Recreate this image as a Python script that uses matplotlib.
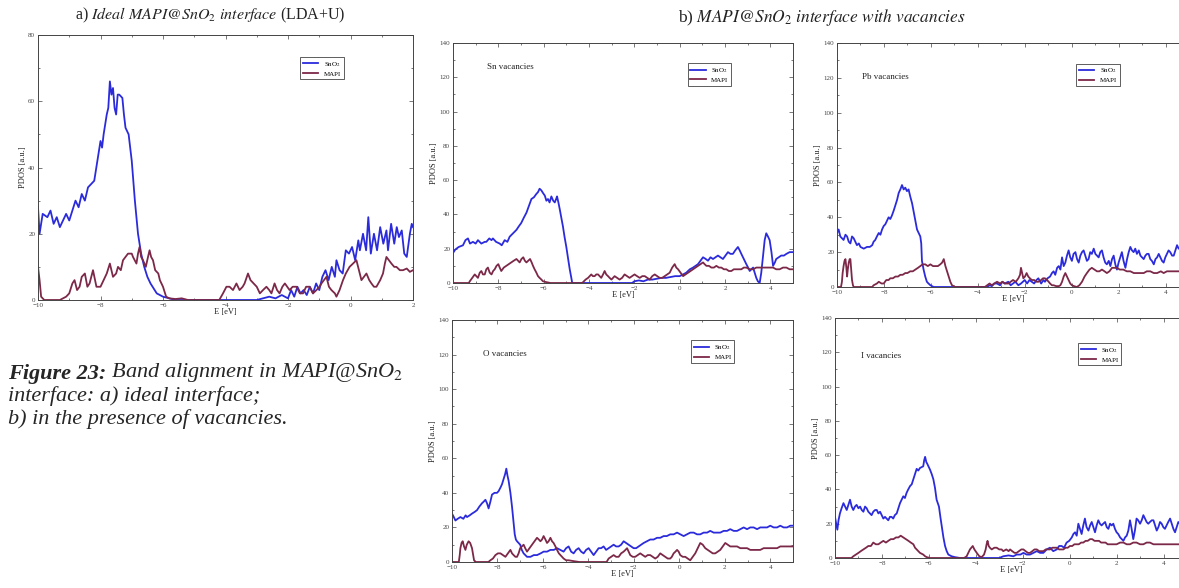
import numpy as np
import matplotlib.pyplot as plt
from matplotlib.ticker import MultipleLocator

plt.rcParams['font.family'] = ['Liberation Serif', 'DejaVu Serif']
plt.rcParams['mathtext.fontset'] = 'stix'

# ------------------------------------------------------------
# PDOS curves: (E [eV], PDOS [a.u.])
# ------------------------------------------------------------
# a) ideal interface
a_sno2 = [(-10.0, 28), (-9.95, 20), (-9.85, 26), (-9.7, 25), (-9.6, 27), (-9.5, 23), (-9.4, 25),
          (-9.3, 22), (-9.2, 24), (-9.1, 26), (-9.0, 24), (-8.9, 27), (-8.8, 30), (-8.7, 28),
          (-8.6, 32), (-8.5, 30), (-8.4, 34), (-8.3, 35), (-8.2, 36), (-8.1, 42), (-8.0, 48),
          (-7.95, 46), (-7.9, 50), (-7.85, 53), (-7.8, 56), (-7.75, 58), (-7.7, 66), (-7.65, 62),
          (-7.6, 64), (-7.55, 58), (-7.5, 56), (-7.45, 62), (-7.4, 62), (-7.3, 61), (-7.25, 56),
          (-7.2, 52), (-7.1, 50), (-7.0, 42), (-6.95, 36), (-6.9, 30), (-6.8, 20), (-6.7, 14),
          (-6.6, 10), (-6.5, 7), (-6.4, 5), (-6.2, 2), (-6.0, 1), (-5.8, 0.5), (-5.6, 0), (-3.0, 0),
          (-2.8, 0.5), (-2.6, 1), (-2.4, 0.5), (-2.2, 1.5), (-2.0, 0.5), (-1.9, 3), (-1.8, 1),
          (-1.7, 4), (-1.6, 2), (-1.5, 3), (-1.4, 1.5), (-1.3, 4), (-1.2, 2), (-1.1, 5), (-1.0, 3),
          (-0.9, 7), (-0.8, 9), (-0.7, 6), (-0.6, 10), (-0.5, 7), (-0.45, 12), (-0.35, 9),
          (-0.25, 8), (-0.15, 15), (-0.05, 14), (0.05, 16), (0.15, 12), (0.25, 18), (0.3, 15),
          (0.4, 20), (0.5, 15), (0.57, 25), (0.65, 14), (0.75, 20), (0.85, 15), (0.95, 22),
          (1.05, 17), (1.15, 21), (1.2, 15), (1.3, 23), (1.4, 17), (1.48, 22), (1.55, 19),
          (1.64, 21), (1.72, 14), (1.8, 13), (1.9, 20), (1.96, 23), (2.0, 22)]
a_mapi = [(-10.0, 10), (-9.95, 6), (-9.9, 1), (-9.8, 0), (-9.3, 0), (-9.1, 1), (-9.0, 2), (-8.9, 5),
          (-8.83, 6), (-8.75, 3), (-8.67, 4), (-8.6, 7), (-8.5, 8), (-8.42, 4), (-8.35, 5),
          (-8.24, 9), (-8.13, 4), (-8.0, 4), (-7.9, 6), (-7.8, 8), (-7.7, 11), (-7.6, 7), (-7.5, 8),
          (-7.44, 10), (-7.35, 9), (-7.28, 12), (-7.2, 13), (-7.12, 14), (-7.0, 14), (-6.96, 13),
          (-6.85, 11), (-6.8, 14), (-6.75, 16), (-6.7, 13), (-6.64, 12), (-6.55, 10), (-6.48, 13),
          (-6.43, 15), (-6.38, 13), (-6.32, 12), (-6.25, 9), (-6.15, 8), (-6.1, 6), (-6.0, 4),
          (-5.9, 1), (-5.8, 0.5), (-5.6, 0.3), (-5.4, 0.5), (-5.2, 0), (-4.2, 0), (-4.08, 2),
          (-3.97, 4), (-3.87, 4), (-3.76, 3), (-3.65, 5), (-3.55, 3), (-3.45, 4), (-3.39, 5),
          (-3.28, 8), (-3.2, 6), (-3.1, 5), (-3.0, 4), (-2.9, 2), (-2.8, 3), (-2.69, 4), (-2.6, 3),
          (-2.53, 2), (-2.43, 5), (-2.35, 3), (-2.27, 2), (-2.18, 4), (-2.1, 5), (-1.95, 3),
          (-1.85, 4), (-1.73, 4), (-1.62, 2), (-1.52, 2), (-1.42, 4), (-1.31, 4), (-1.2, 2),
          (-1.09, 3), (-0.99, 4), (-0.93, 5), (-0.85, 6), (-0.77, 7), (-0.69, 4), (-0.61, 3),
          (-0.5, 2), (-0.45, 1), (-0.35, 3), (-0.24, 6), (-0.15, 8), (-0.03, 10), (0.08, 11),
          (0.19, 12), (0.27, 9), (0.35, 6), (0.43, 7), (0.51, 8), (0.6, 6), (0.67, 5), (0.75, 4),
          (0.83, 4), (0.95, 6), (1.04, 8), (1.1, 11), (1.15, 13), (1.23, 12), (1.31, 11),
          (1.4, 10), (1.47, 10), (1.58, 9), (1.68, 9), (1.8, 9.5), (1.9, 8.5), (2.0, 9)]

# b) Sn vacancies
sn_sno2 = [(-10.0, 17.5), (-9.9, 19.5), (-9.75, 21), (-9.56, 22), (-9.45, 25), (-9.34, 26),
           (-9.25, 23), (-9.12, 24), (-9.0, 23), (-8.9, 25), (-8.75, 23), (-8.6, 24), (-8.53, 24),
           (-8.4, 26), (-8.3, 25), (-8.24, 26), (-8.1, 24), (-7.94, 23), (-7.85, 22), (-7.72, 25),
           (-7.6, 24), (-7.5, 27), (-7.35, 29), (-7.2, 31), (-7.1, 33), (-6.99, 35), (-6.88, 38),
           (-6.76, 41), (-6.65, 45), (-6.54, 49), (-6.43, 50), (-6.32, 52), (-6.25, 53),
           (-6.18, 55), (-6.1, 54), (-6.03, 52.5), (-5.95, 51), (-5.88, 48), (-5.81, 49),
           (-5.74, 47), (-5.66, 50.5), (-5.58, 48), (-5.51, 47), (-5.45, 49), (-5.41, 50.5),
           (-5.35, 47), (-5.29, 43), (-5.22, 38), (-5.15, 33), (-5.08, 27), (-5.0, 21),
           (-4.92, 14), (-4.85, 8), (-4.78, 3), (-4.74, 0), (-2.1, 0), (-2.0, 1), (-1.8, 1.5),
           (-1.6, 1), (-1.4, 2), (-1.2, 2), (-1.0, 2.5), (-0.8, 3), (-0.6, 3), (-0.4, 3.5),
           (-0.2, 4), (0.0, 4), (0.15, 5), (0.29, 6), (0.45, 8), (0.59, 9), (0.7, 10), (0.81, 11),
           (0.92, 13), (1.03, 15), (1.15, 14), (1.25, 13), (1.36, 15), (1.47, 14), (1.58, 15),
           (1.69, 16), (1.8, 15), (1.91, 14), (2.02, 16), (2.13, 18), (2.24, 17), (2.35, 17),
           (2.45, 19), (2.57, 21), (2.65, 19), (2.72, 17), (2.83, 14), (2.94, 11), (3.02, 9),
           (3.09, 7), (3.16, 8), (3.24, 9), (3.31, 6), (3.38, 3), (3.45, 1), (3.53, 0), (3.6, 6),
           (3.68, 16), (3.75, 25), (3.82, 29), (3.9, 27), (3.97, 25), (4.05, 18), (4.12, 10),
           (4.2, 12), (4.26, 14), (4.37, 15), (4.48, 16), (4.6, 16), (4.71, 17), (4.85, 18),
           (5.0, 18)]
sn_mapi = [(-10.0, 0), (-9.3, 0), (-9.26, 1), (-9.15, 3), (-9.04, 5), (-8.97, 4), (-8.9, 3),
           (-8.82, 6), (-8.75, 7), (-8.68, 5), (-8.6, 5), (-8.53, 8), (-8.46, 9), (-8.38, 6),
           (-8.3, 5), (-8.23, 7), (-8.16, 8), (-8.08, 10), (-8.0, 11), (-7.94, 9), (-7.87, 7),
           (-7.76, 9), (-7.65, 10), (-7.54, 11), (-7.43, 12), (-7.32, 13), (-7.2, 14),
           (-7.13, 13), (-7.06, 12), (-6.98, 14), (-6.9, 15), (-6.83, 13), (-6.76, 12),
           (-6.68, 13), (-6.6, 14), (-6.53, 12), (-6.47, 10), (-6.4, 8), (-6.32, 6), (-6.25, 4),
           (-6.18, 3), (-6.1, 2), (-6.03, 1), (-5.88, 0.5), (-5.7, 0), (-4.3, 0), (-4.15, 2),
           (-4.04, 3), (-3.97, 4), (-3.9, 5), (-3.83, 4), (-3.75, 4), (-3.68, 5), (-3.6, 5),
           (-3.53, 4), (-3.46, 3), (-3.38, 5), (-3.31, 7), (-3.24, 5), (-3.16, 4), (-3.09, 3),
           (-3.01, 2), (-2.94, 3), (-2.87, 4), (-2.76, 3), (-2.65, 2), (-2.54, 3), (-2.43, 5),
           (-2.32, 4), (-2.21, 3), (-2.1, 4), (-1.99, 5), (-1.88, 4), (-1.76, 3), (-1.65, 4),
           (-1.54, 4), (-1.43, 3), (-1.32, 2), (-1.21, 4), (-1.1, 5), (-0.99, 4), (-0.88, 3),
           (-0.77, 3), (-0.66, 4), (-0.55, 5), (-0.44, 6), (-0.33, 9), (-0.22, 11), (-0.15, 9),
           (-0.07, 8), (0.04, 6), (0.15, 4), (0.26, 5), (0.37, 6), (0.48, 7), (0.59, 8), (0.7, 9),
           (0.81, 10), (0.92, 11), (1.03, 12), (1.1, 11), (1.18, 10), (1.29, 10), (1.4, 9),
           (1.51, 9), (1.62, 10), (1.73, 9), (1.84, 9), (1.95, 8), (2.06, 8), (2.17, 7), (2.28, 7),
           (2.39, 8), (2.5, 8), (2.61, 8), (2.72, 8), (2.83, 9), (2.94, 9), (3.09, 8), (3.24, 8),
           (3.38, 9), (3.53, 9), (3.68, 9), (3.82, 9), (3.97, 9), (4.12, 9), (4.26, 8), (4.41, 8),
           (4.56, 9), (4.71, 9), (4.85, 8), (5.0, 8)]

# b) Pb vacancies
pb_sno2 = [(-10.0, 31), (-9.93, 33), (-9.86, 29), (-9.79, 28), (-9.72, 27), (-9.64, 30),
           (-9.57, 29), (-9.5, 26), (-9.43, 25), (-9.36, 29), (-9.29, 28), (-9.22, 26),
           (-9.15, 24), (-9.07, 25), (-9.0, 23), (-8.86, 22), (-8.72, 23), (-8.6, 23), (-8.5, 24),
           (-8.44, 26), (-8.37, 27), (-8.3, 29), (-8.22, 31), (-8.15, 30), (-8.08, 33),
           (-8.01, 35), (-7.94, 36), (-7.87, 38), (-7.8, 40), (-7.73, 39), (-7.66, 41),
           (-7.58, 44), (-7.51, 47), (-7.44, 50), (-7.37, 54), (-7.3, 56), (-7.23, 58.5),
           (-7.16, 56), (-7.09, 57), (-7.02, 55), (-6.95, 56), (-6.88, 52), (-6.8, 48),
           (-6.73, 43), (-6.66, 38), (-6.59, 33), (-6.52, 31), (-6.45, 29), (-6.41, 25),
           (-6.38, 15), (-6.31, 10), (-6.24, 6), (-6.17, 3), (-6.1, 2), (-6.02, 1), (-5.88, 0),
           (-3.6, 0), (-3.5, 1), (-3.4, 0.5), (-3.3, 2), (-3.18, 2), (-3.05, 1), (-2.95, 3),
           (-2.85, 2), (-2.7, 3), (-2.6, 1), (-2.5, 2), (-2.4, 3), (-2.27, 1), (-2.16, 2),
           (-2.0, 4), (-1.9, 2), (-1.8, 4), (-1.7, 3), (-1.6, 2), (-1.5, 4), (-1.42, 5), (-1.3, 2),
           (-1.2, 4), (-1.14, 3), (-1.03, 5), (-0.92, 6), (-0.84, 8), (-0.77, 9), (-0.7, 7),
           (-0.62, 11), (-0.55, 12), (-0.48, 10), (-0.41, 17), (-0.34, 12), (-0.27, 14),
           (-0.2, 18), (-0.13, 21), (-0.06, 17), (0.01, 15), (0.08, 19), (0.16, 20), (0.23, 16),
           (0.3, 14), (0.37, 18), (0.44, 20), (0.51, 21), (0.58, 18), (0.65, 15), (0.72, 16),
           (0.79, 20), (0.86, 19), (0.94, 22), (1.01, 19), (1.08, 18), (1.15, 17), (1.22, 20),
           (1.29, 21), (1.36, 17), (1.43, 14), (1.5, 13), (1.58, 15), (1.65, 12), (1.72, 16),
           (1.79, 18), (1.86, 13), (1.93, 10), (2.0, 14), (2.07, 17), (2.14, 20), (2.21, 15),
           (2.29, 11), (2.36, 16), (2.43, 20), (2.5, 23), (2.57, 21), (2.64, 20), (2.71, 22),
           (2.78, 19), (2.86, 21), (2.93, 18), (3.0, 17), (3.07, 16), (3.14, 18), (3.21, 19),
           (3.28, 19), (3.35, 16), (3.42, 15), (3.5, 13), (3.57, 16), (3.64, 17), (3.71, 19),
           (3.78, 17), (3.85, 15), (3.92, 14), (3.99, 17), (4.06, 19), (4.13, 21), (4.2, 20),
           (4.28, 18), (4.35, 18), (4.42, 21), (4.49, 24), (4.56, 22), (4.63, 22), (4.7, 21),
           (4.8, 20), (4.9, 21), (5.0, 20)]
pb_mapi = [(-10.0, 0), (-9.83, 0), (-9.79, 3), (-9.76, 8), (-9.72, 12), (-9.68, 15), (-9.64, 16),
           (-9.6, 11), (-9.57, 6), (-9.54, 10), (-9.5, 14), (-9.46, 16), (-9.43, 16), (-9.4, 11),
           (-9.36, 4), (-9.32, 1), (-9.29, 0), (-8.5, 0), (-8.44, 1), (-8.3, 2), (-8.22, 3),
           (-8.1, 2), (-8.01, 2), (-7.9, 4), (-7.8, 4), (-7.73, 5), (-7.62, 5), (-7.51, 6),
           (-7.4, 6), (-7.3, 7), (-7.2, 7), (-7.09, 8), (-7.0, 8), (-6.88, 9), (-6.77, 9),
           (-6.66, 10), (-6.55, 11), (-6.45, 12), (-6.35, 13), (-6.24, 13), (-6.13, 12),
           (-6.02, 13), (-5.91, 12), (-5.8, 12), (-5.7, 12), (-5.6, 13), (-5.52, 14), (-5.45, 16),
           (-5.38, 12), (-5.31, 9), (-5.24, 6), (-5.17, 3), (-5.1, 1), (-4.96, 0), (-3.7, 0),
           (-3.6, 1), (-3.5, 2), (-3.4, 1), (-3.3, 2), (-3.18, 3), (-3.05, 2), (-2.95, 3),
           (-2.85, 2), (-2.7, 2), (-2.6, 3), (-2.5, 4), (-2.38, 3), (-2.27, 5), (-2.2, 7),
           (-2.16, 11), (-2.11, 8), (-2.06, 5), (-1.99, 6), (-1.92, 8), (-1.85, 6), (-1.78, 5),
           (-1.7, 4), (-1.6, 4), (-1.5, 3), (-1.42, 3), (-1.3, 4), (-1.22, 5), (-1.14, 5),
           (-1.05, 4), (-0.98, 3), (-0.92, 2), (-0.84, 1), (-0.77, 1), (-0.66, 0.5), (-0.55, 0.5),
           (-0.48, 1), (-0.41, 3), (-0.34, 6), (-0.27, 8), (-0.2, 6), (-0.13, 4), (-0.06, 2),
           (0.01, 1), (0.1, 0.5), (0.22, 0), (0.33, 1), (0.44, 3), (0.55, 6), (0.65, 8), (0.76, 10),
           (0.86, 11), (0.97, 10), (1.08, 9), (1.18, 9), (1.29, 10), (1.4, 9), (1.5, 8), (1.61, 9),
           (1.72, 11), (1.82, 11), (1.93, 11), (2.05, 10), (2.2, 10), (2.35, 9), (2.5, 9),
           (2.65, 8), (2.78, 8), (2.93, 8), (3.07, 8), (3.2, 9), (3.35, 9), (3.5, 8), (3.64, 8),
           (3.8, 9), (3.92, 8), (4.06, 9), (4.2, 9), (4.35, 9), (4.5, 9), (4.6, 9), (4.8, 9),
           (5.0, 9)]

# b) O vacancies
o_sno2 = [(-10.0, 28), (-9.92, 26), (-9.85, 24), (-9.75, 25), (-9.63, 26), (-9.5, 25), (-9.4, 27),
          (-9.34, 26), (-9.22, 27), (-9.12, 28), (-9.0, 29), (-8.9, 30), (-8.8, 32), (-8.68, 34),
          (-8.6, 35), (-8.53, 36), (-8.46, 34), (-8.39, 31), (-8.31, 35), (-8.24, 39),
          (-8.13, 40), (-8.02, 40), (-7.95, 41), (-7.87, 43), (-7.8, 45), (-7.73, 48),
          (-7.66, 51), (-7.61, 54), (-7.56, 50), (-7.51, 47), (-7.43, 40), (-7.36, 32),
          (-7.3, 24), (-7.24, 16), (-7.19, 13), (-7.14, 12), (-7.07, 11), (-7.0, 10), (-6.93, 7),
          (-6.85, 5), (-6.7, 3), (-6.55, 3), (-6.4, 4), (-6.26, 4), (-6.1, 5), (-5.97, 6),
          (-5.82, 6), (-5.67, 7), (-5.52, 7), (-5.38, 8), (-5.23, 7), (-5.09, 6), (-4.98, 8),
          (-4.87, 9), (-4.76, 6), (-4.65, 5), (-4.54, 7), (-4.43, 8), (-4.32, 6), (-4.21, 5),
          (-4.1, 7), (-3.99, 8), (-3.88, 6), (-3.77, 4), (-3.66, 6), (-3.55, 8), (-3.44, 8),
          (-3.33, 9), (-3.22, 7), (-3.11, 8), (-3.0, 9), (-2.89, 10), (-2.78, 9), (-2.67, 9),
          (-2.56, 10), (-2.45, 12), (-2.34, 11), (-2.23, 10), (-2.12, 9), (-2.01, 8), (-1.9, 8),
          (-1.79, 9), (-1.68, 10), (-1.57, 11), (-1.43, 12), (-1.28, 13), (-1.13, 13),
          (-0.98, 14), (-0.84, 14), (-0.69, 15), (-0.55, 15), (-0.4, 16), (-0.25, 16), (-0.1, 17),
          (0.04, 16), (0.19, 15), (0.33, 16), (0.48, 17), (0.63, 17), (0.78, 16), (0.92, 16),
          (1.07, 17), (1.22, 17), (1.36, 18), (1.51, 17), (1.66, 17), (1.8, 17), (1.95, 18),
          (2.1, 18), (2.24, 19), (2.39, 18), (2.54, 18), (2.68, 19), (2.83, 20), (2.98, 19),
          (3.12, 20), (3.27, 20), (3.42, 19), (3.56, 20), (3.71, 20), (3.86, 20), (4.0, 21),
          (4.15, 20), (4.3, 20), (4.44, 21), (4.59, 20), (4.74, 20), (4.88, 21), (5.0, 21)]
o_mapi = [(-10.0, 0), (-9.7, 0), (-9.66, 4), (-9.63, 8), (-9.58, 11), (-9.53, 12), (-9.47, 9),
          (-9.41, 7), (-9.35, 10), (-9.27, 12), (-9.2, 11), (-9.12, 8), (-9.07, 4), (-9.03, 1),
          (-8.97, 0), (-8.4, 0), (-8.31, 1), (-8.2, 2), (-8.09, 4), (-7.98, 5), (-7.87, 5),
          (-7.76, 4), (-7.65, 3), (-7.54, 5), (-7.43, 7), (-7.36, 5), (-7.29, 4), (-7.21, 3),
          (-7.14, 3), (-7.07, 5), (-7.0, 8), (-6.93, 9), (-6.85, 10), (-6.78, 8), (-6.7, 6),
          (-6.59, 8), (-6.48, 10), (-6.37, 12), (-6.26, 14), (-6.18, 13), (-6.11, 12), (-6.04, 13),
          (-5.97, 15), (-5.89, 13), (-5.82, 11), (-5.75, 12), (-5.67, 14), (-5.6, 12), (-5.53, 11),
          (-5.45, 9), (-5.38, 7), (-5.3, 5), (-5.23, 4), (-5.16, 3), (-5.09, 2), (-4.98, 1),
          (-4.87, 1), (-4.65, 0.5), (-4.4, 0), (-3.2, 0), (-3.11, 2), (-3.0, 3), (-2.89, 4),
          (-2.78, 3), (-2.67, 3), (-2.56, 5), (-2.45, 6), (-2.37, 7), (-2.3, 8), (-2.23, 6),
          (-2.16, 4), (-2.05, 3), (-1.94, 3), (-1.83, 4), (-1.72, 5), (-1.61, 4), (-1.5, 3),
          (-1.39, 4), (-1.28, 4), (-1.17, 3), (-1.06, 2), (-0.95, 3), (-0.84, 5), (-0.73, 4),
          (-0.62, 3), (-0.51, 2), (-0.4, 2), (-0.33, 3), (-0.25, 5), (-0.17, 6), (-0.1, 7),
          (-0.03, 6), (0.04, 4), (0.15, 3), (0.26, 3), (0.37, 2), (0.48, 1), (0.59, 3), (0.7, 5),
          (0.81, 8), (0.92, 11), (1.03, 10), (1.14, 8), (1.25, 7), (1.36, 6), (1.47, 5), (1.58, 5),
          (1.69, 6), (1.8, 7), (1.91, 9), (2.02, 11), (2.13, 10), (2.24, 9), (2.39, 9), (2.54, 9),
          (2.68, 8), (2.83, 8), (2.98, 8), (3.12, 7), (3.27, 7), (3.42, 7), (3.56, 7), (3.71, 8),
          (3.86, 8), (4.0, 8), (4.15, 8), (4.3, 8), (4.44, 9), (4.59, 9), (4.74, 9), (4.88, 9),
          (5.0, 9)]

# b) I vacancies
i_sno2 = [(-10.0, 24), (-9.95, 20), (-9.9, 16.5), (-9.85, 22), (-9.79, 26), (-9.72, 29),
          (-9.64, 32), (-9.57, 30), (-9.5, 28), (-9.43, 31), (-9.36, 34), (-9.29, 30), (-9.22, 28),
          (-9.15, 30), (-9.08, 31), (-9.0, 29), (-8.93, 30), (-8.86, 28), (-8.79, 27), (-8.72, 30),
          (-8.65, 29), (-8.58, 27), (-8.51, 26), (-8.44, 25), (-8.37, 27), (-8.29, 28),
          (-8.22, 28), (-8.15, 26), (-8.08, 27), (-8.01, 25), (-7.94, 23), (-7.87, 24),
          (-7.8, 23), (-7.73, 22), (-7.66, 24), (-7.59, 24), (-7.52, 23), (-7.45, 25), (-7.37, 26),
          (-7.3, 29), (-7.23, 32), (-7.16, 34), (-7.09, 36), (-7.02, 35), (-6.95, 38), (-6.88, 40),
          (-6.8, 42), (-6.73, 43), (-6.66, 46), (-6.59, 49), (-6.52, 52), (-6.45, 51),
          (-6.38, 52.5), (-6.31, 53), (-6.24, 53.5), (-6.2, 57), (-6.16, 59), (-6.11, 56),
          (-6.07, 55), (-6.0, 53), (-5.95, 51.5), (-5.88, 49), (-5.81, 46), (-5.74, 41),
          (-5.67, 34), (-5.62, 32), (-5.57, 30), (-5.51, 24), (-5.45, 18.5), (-5.38, 12),
          (-5.31, 7), (-5.24, 4), (-5.17, 2), (-5.03, 1), (-4.89, 0.5), (-4.67, 0), (-3.0, 0),
          (-2.83, 1), (-2.6, 1.5), (-2.4, 1), (-2.26, 2), (-2.1, 2), (-1.97, 3), (-1.83, 2),
          (-1.69, 2), (-1.55, 3), (-1.4, 4), (-1.26, 3), (-1.12, 3), (-0.98, 5), (-0.84, 6),
          (-0.7, 4), (-0.55, 5), (-0.45, 7), (-0.34, 7), (-0.24, 6), (-0.13, 9), (-0.02, 10),
          (0.09, 12), (0.16, 14), (0.23, 15), (0.3, 13), (0.37, 20), (0.44, 17), (0.51, 14),
          (0.58, 19), (0.65, 23), (0.72, 18), (0.8, 16), (0.87, 19), (0.94, 21), (1.01, 18),
          (1.08, 15), (1.15, 19), (1.22, 22), (1.29, 20), (1.36, 19), (1.43, 20), (1.51, 21),
          (1.58, 18), (1.65, 17), (1.72, 20), (1.79, 19), (1.86, 20), (1.93, 17), (2.0, 15),
          (2.07, 14), (2.15, 12), (2.22, 11), (2.29, 10), (2.36, 12), (2.43, 13), (2.5, 16),
          (2.57, 22), (2.64, 17), (2.71, 11), (2.78, 16), (2.85, 23), (2.92, 22), (3.0, 20),
          (3.07, 22), (3.14, 25), (3.21, 23), (3.28, 21), (3.35, 20), (3.42, 21), (3.5, 22),
          (3.57, 22), (3.64, 19), (3.71, 16), (3.78, 18), (3.85, 21), (3.92, 20), (3.99, 18),
          (4.06, 17), (4.13, 19), (4.2, 21), (4.28, 23), (4.35, 20), (4.42, 17), (4.49, 15),
          (4.56, 18), (4.63, 21), (4.7, 20), (4.8, 18), (4.9, 19), (5.0, 18)]
i_mapi = [(-10.0, 0), (-9.3, 0), (-9.22, 1), (-9.11, 2), (-9.0, 3), (-8.9, 4), (-8.79, 5),
          (-8.68, 6), (-8.58, 7), (-8.47, 7), (-8.37, 9), (-8.26, 8), (-8.15, 8), (-8.05, 9),
          (-7.94, 10), (-7.83, 9), (-7.73, 10), (-7.62, 11), (-7.51, 11), (-7.4, 12), (-7.3, 12),
          (-7.2, 13), (-7.09, 12), (-6.98, 11), (-6.87, 10), (-6.77, 9), (-6.66, 8), (-6.59, 6),
          (-6.52, 5), (-6.45, 4), (-6.38, 3), (-6.31, 2.5), (-6.24, 2), (-6.16, 1), (-6.09, 0.5),
          (-5.95, 0), (-4.5, 0), (-4.39, 1), (-4.32, 3), (-4.25, 5), (-4.19, 6), (-4.13, 7),
          (-4.06, 5), (-3.96, 3), (-3.85, 1), (-3.75, 0.5), (-3.65, 2), (-3.58, 5), (-3.54, 8),
          (-3.5, 10), (-3.45, 7), (-3.4, 6), (-3.32, 5), (-3.21, 6), (-3.11, 6), (-3.0, 5),
          (-2.9, 5), (-2.83, 4), (-2.7, 5), (-2.6, 4), (-2.54, 5), (-2.45, 4), (-2.35, 3),
          (-2.26, 3), (-2.16, 4), (-2.06, 5), (-1.97, 5), (-1.88, 4), (-1.78, 3), (-1.69, 3),
          (-1.59, 4), (-1.5, 5), (-1.4, 5), (-1.3, 4), (-1.21, 4), (-1.12, 4), (-1.02, 5),
          (-0.93, 5), (-0.84, 5), (-0.74, 6), (-0.64, 6), (-0.55, 6), (-0.45, 5), (-0.36, 5),
          (-0.27, 5), (-0.17, 6), (-0.08, 6), (0.01, 7), (0.11, 7), (0.2, 8), (0.3, 8), (0.39, 8),
          (0.49, 9), (0.58, 9), (0.68, 10), (0.77, 10), (0.87, 11), (0.96, 11), (1.06, 10),
          (1.15, 10), (1.25, 10), (1.34, 9), (1.43, 9), (1.53, 9), (1.62, 8), (1.72, 8), (1.82, 8),
          (1.91, 8), (2.0, 8), (2.15, 9), (2.29, 9), (2.43, 8), (2.57, 8), (2.71, 9), (2.85, 9),
          (3.0, 8), (3.14, 8), (3.28, 9), (3.42, 9), (3.57, 8), (3.71, 8), (3.85, 8), (3.99, 8),
          (4.14, 8), (4.28, 8), (4.42, 8), (4.56, 8), (4.7, 8), (4.85, 8), (5.0, 8)]

series_labels = [r'SnO$_2$', 'MAPI']
panel_notes = ['Sn vacancies', 'Pb vacancies', 'O vacancies', 'I vacancies']

BLUE = '#2b2bdc'
MAROON = '#7c2848'
EDGE = '#444444'

W, H = 1179, 588


def px_box(left, top, right, bottom):
    # pixel box -> figure fraction
    return [left / W, 1 - bottom / H, (right - left) / W, (bottom - top) / H]


def draw_panel(ax, sno2, mapi, xlim, ymax, legend_xy, note=None, note_xy=None):
    e, v = np.array(sno2).T
    ax.plot(e, v, color=BLUE, lw=1.3, label=series_labels[0])
    e, v = np.array(mapi).T
    ax.plot(e, v, color=MAROON, lw=1.3, label=series_labels[1])

    ax.set_xlim(*xlim)
    ax.set_ylim(0, ymax)
    ax.xaxis.set_major_locator(MultipleLocator(2))
    ax.xaxis.set_minor_locator(MultipleLocator(1))
    ax.yaxis.set_major_locator(MultipleLocator(20))
    ax.yaxis.set_minor_locator(MultipleLocator(10))
    ax.tick_params(which='both', direction='in', top=True, right=True,
                   width=0.5, colors=EDGE, labelsize=5, pad=2)
    ax.tick_params(which='major', length=3)
    ax.tick_params(which='minor', length=1.5)
    for s in ax.spines.values():
        s.set_color(EDGE)
        s.set_linewidth(0.7)

    ax.set_xlabel('E [eV]', fontsize=6, labelpad=0, color='#222222')
    ax.set_ylabel('PDOS [a.u.]', fontsize=6, labelpad=1, color='#222222')

    leg = ax.legend(loc='upper left', bbox_to_anchor=legend_xy, fontsize=5,
                    fancybox=False, framealpha=1, edgecolor=EDGE,
                    handlelength=2.2, borderpad=0.4, labelspacing=0.3, handletextpad=0.8)
    leg.get_frame().set_linewidth(0.6)

    if note:
        ax.text(note_xy[0], note_xy[1], note, transform=ax.transAxes,
                fontsize=6.5, va='center', color='#222222')


fig = plt.figure(figsize=(W / 100, H / 100), dpi=100)

ax_a = fig.add_axes(px_box(38, 35, 413, 300))
draw_panel(ax_a, a_sno2, a_mapi, (-10, 2), 80, (0.69, 0.93))

ax_sn = fig.add_axes(px_box(453, 43, 793, 283))
draw_panel(ax_sn, sn_sno2, sn_mapi, (-10, 5), 140, (0.68, 0.93), panel_notes[0], (0.1, 0.9))

# right-hand panels run past the edge of the picture, as in the original
ax_pb = fig.add_axes(px_box(837, 43, 1189, 287))
draw_panel(ax_pb, pb_sno2, pb_mapi, (-10, 5), 140, (0.67, 0.93), panel_notes[1], (0.07, 0.86))

ax_o = fig.add_axes(px_box(452, 320, 793, 562))
draw_panel(ax_o, o_sno2, o_mapi, (-10, 5), 140, (0.69, 0.93), panel_notes[2], (0.09, 0.86))

ax_i = fig.add_axes(px_box(835, 318, 1187, 558))
draw_panel(ax_i, i_sno2, i_mapi, (-10, 5), 140, (0.68, 0.91), panel_notes[3], (0.075, 0.84))

# panel titles
fig.text(210 / W, 1 - 15 / H,
         r'a) $\mathit{Ideal}$ $\mathit{MAPI@SnO_2}$ $\mathit{interface}$ (LDA+U)',
         ha='center', va='center', fontsize=11.5, color='#222222')
fig.text(822 / W, 1 - 18 / H,
         r'b) $\mathit{MAPI@SnO_2}$ $\mathit{interface\ with\ vacancies}$',
         ha='center', va='center', fontsize=12.5, color='#222222')

# caption
cap_col = '#262626'
cap_size = 16
t1 = fig.text(8 / W, 1 - 379 / H, 'Figure 23:', fontsize=cap_size, fontstyle='italic',
              fontweight='bold', color=cap_col, va='baseline')
ax_a.annotate(r' Band alignment in MAPI@SnO$_2$', xy=(1, 0), xycoords=t1,
              fontsize=cap_size, fontstyle='italic', color=cap_col, va='bottom',
              annotation_clip=False)
fig.text(8 / W, 1 - 401 / H, 'interface: a) ideal interface;', fontsize=cap_size,
         fontstyle='italic', color=cap_col, va='baseline')
fig.text(8 / W, 1 - 424 / H, 'b) in the presence of vacancies.', fontsize=cap_size,
         fontstyle='italic', color=cap_col, va='baseline')

fig.savefig('out.png', dpi=100)
